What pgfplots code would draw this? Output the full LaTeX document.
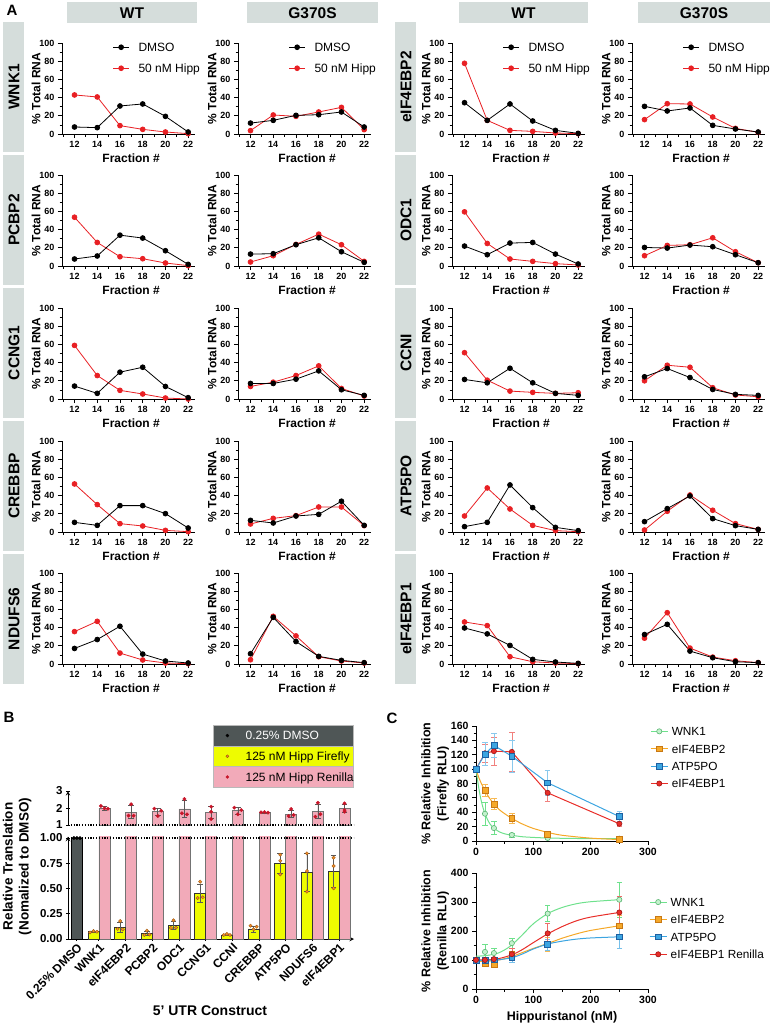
\documentclass[border=0pt]{standalone}
\usepackage{pgfplots}
\pgfplotsset{compat=1.18}
\usepackage{fontspec}
\setmainfont{Liberation Sans}

\definecolor{hdr}{RGB}{213,221,219}
\definecolor{redA}{RGB}{232,32,36}
\definecolor{dmsog}{RGB}{79,86,86}
\definecolor{yelB}{RGB}{238,252,0}
\definecolor{pinkB}{RGB}{242,170,185}
\definecolor{orgdot}{RGB}{240,140,40}
\definecolor{orgdk}{RGB}{150,80,10}
\definecolor{reddot}{RGB}{200,20,40}
\definecolor{greenC}{RGB}{110,225,140}
\definecolor{greenF}{RGB}{195,242,205}
\definecolor{orangeC}{RGB}{245,168,40}
\definecolor{orangeD}{RGB}{200,120,20}
\definecolor{blueC}{RGB}{60,165,225}
\definecolor{blueD}{RGB}{30,95,160}
\definecolor{redC}{RGB}{232,45,40}
\definecolor{redD}{RGB}{160,20,20}

\newcommand{\fA}{\bfseries\fontsize{12}{12}\selectfont}
\newcommand{\fC}{\bfseries\fontsize{12.5}{16}\selectfont}

\pgfplotsset{
  /pgf/number format/assume math mode=true,
  blkline/.style={black, line width=0.8pt, mark=*, mark size=2.4pt, mark options={solid, fill=black}},
  rdline/.style={color=redA, line width=0.8pt, mark=*, mark size=2.4pt, mark options={solid, fill=redA}},
  fracstyle/.style={
    scale only axis, width=133pt, height=91pt, anchor=south west,
    xmin=10.9, xmax=22.6, ymin=0, ymax=100,
    axis lines=left, axis line style={-, line width=0.9pt},
    xtick={12,14,16,18,20,22}, ytick={0,20,40,60,80,100},
    minor xtick={11,13,15,17,19,21}, minor ytick={10,30,50,70,90},
    tick align=outside, major tick length=4pt, minor tick length=2.5pt,
    tick style={black, line width=0.8pt},
    tick label style={font=\bfseries\fontsize{9}{10}\selectfont},
    xlabel={Fraction \#}, ylabel={\% Total RNA},
    xlabel style={at={(axis description cs:0.52,-0.264)}, anchor=center, font=\fA},
    ylabel style={at={(axis description cs:-0.195,0.5)}, anchor=center, font=\fA},
    clip=false,
  },
  legA/.style={
    legend style={at={(axis description cs:0.38,1.071)}, anchor=north west,
      draw=none, fill=none, inner sep=0pt, row sep=0pt, font=\fontsize{12}{12}\selectfont,
      nodes={inner sep=0pt, text height=14.5pt, text depth=6.5pt},
      /tikz/every odd column/.append style={column sep=9pt}},
    legend cell align=left,
    legend image code/.code={\draw[mark repeat=2,mark phase=2,##1] plot coordinates {(0pt,0pt) (8pt,0pt) (16pt,0pt)};},
  },
  cstyle/.style={
    scale only axis, width=172pt, anchor=south west,
    xmin=0, xmax=300, xtick={0,100,200,300}, minor x tick num=1,
    axis lines=left, axis line style={-, line width=1pt},
    tick align=outside, major tick length=4pt, minor tick length=2.5pt,
    tick style={black, line width=0.8pt},
    tick label style={font=\bfseries\fontsize{10.5}{11}\selectfont},
    clip=false,
    legend style={anchor=north west, draw=none, fill=none, inner sep=0pt, row sep=0pt, font=\fontsize{11.8}{12}\selectfont,
      nodes={inner sep=0pt, text height=13pt, text depth=4.4pt},
      /tikz/every odd column/.append style={column sep=3.5pt}},
    legend cell align=left,
    legend image code/.code={\draw[mark repeat=2,mark phase=2,##1] plot coordinates {(0pt,0pt) (8.5pt,0pt) (17pt,0pt)};},
  },
  ebar/.style={error bars/.cd, y dir=both, y explicit,
    error bar style={#1, line width=0.6pt},
    error mark options={rotate=90, mark size=2.8pt, #1, line width=0.6pt}, /pgfplots/.cd},
  bstyle/.style={
    scale only axis, width=286pt, anchor=south west,
    xmin=-0.16, xmax=10.56,
    tick align=outside, major tick length=4pt,
    tick style={black, line width=0.9pt},
    tick label style={font=\bfseries\fontsize{11.5}{12}\selectfont},
    axis line style={-, line width=1pt},
  },
}

\newcommand{\fp}[6]{%
  \begin{axis}[fracstyle, at={(#1pt,-#2pt)}, #5]
    \addplot[rdline, forget plot] coordinates {#4};
    \addplot[blkline, forget plot] coordinates {#3};
    #6
  \end{axis}}
\newcommand{\leg}{\addlegendimage{blkline}\addlegendentry{DMSO}\addlegendimage{rdline}\addlegendentry{50 nM Hipp}}

\begin{document}
\begin{tikzpicture}
\useasboundingbox (0pt,0pt) rectangle (772pt,-1025pt);

% ---------------- Panel A annotations ----------------
\node[font=\bfseries\fontsize{15}{15}\selectfont] at (12pt,-10pt) {A};
\foreach \xa/\xb/\t in {67/197/WT, 247/378/G370S, 459/588/WT, 638/770/G370S}{
  \fill[hdr] (\xa pt,-2pt) rectangle (\xb pt,-23pt);
  \node[font=\bfseries\fontsize{15.5}{16}\selectfont] at ({(\xa+\xb)/2*1pt},-13pt) {\t};
}
\foreach \yt/\la/\lb in {22/WNK1/eIF4EBP2, 155/PCBP2/ODC1, 288/CCNG1/CCNI, 421/CREBBP/ATP5PO, 554/NDUFS6/eIF4EBP1}{
  \fill[hdr] (3pt,-\yt pt) rectangle (24pt,{-(\yt+130)*1pt});
  \fill[hdr] (395pt,-\yt pt) rectangle (416pt,{-(\yt+130)*1pt});
  \node[rotate=90, font=\bfseries\fontsize{15.5}{16}\selectfont] at (14pt,{-(\yt+65)*1pt}) {\la};
  \node[rotate=90, font=\bfseries\fontsize{15.5}{16}\selectfont] at (406pt,{-(\yt+65)*1pt}) {\lb};
}

% ---------------- Panel A plots ----------------
% row 1
\fp{62}{134}{(12,7.7)(14,7)(16,30.8)(18,33)(20,19.4)(22,2.2)}{(12,42.9)(14,40.7)(16,9.2)(18,5.1)(20,2.2)(22,0.4)}{legA}{\leg}
\fp{238}{134}{(12,12)(14,15)(16,20.5)(18,21.2)(20,24.2)(22,7.7)}{(12,3.7)(14,20.9)(16,19.4)(18,24.2)(20,29.3)(22,4.8)}{legA}{\leg}
\fp{452}{134}{(12,34.4)(14,15)(16,33)(18,14.3)(20,4)(22,0.7)}{(12,77.7)(14,15)(16,4)(18,2.9)(20,1.1)(22,0.4)}{legA}{\leg}
\fp{632}{134}{(12,30.4)(14,25.3)(16,28.6)(18,9.5)(20,5.5)(22,2.2)}{(12,15.8)(14,33.3)(16,33)(18,18.7)(20,6.2)(22,1.8)}{legA}{\leg}
% row 2
\fp{62}{266}{(12,7.7)(14,11)(16,33.9)(18,30.7)(20,16.8)(22,1.8)}{(12,53.6)(14,25.9)(16,10.2)(18,8)(20,3.3)(22,0.4)}{}{}
\fp{238}{266}{(12,13.1)(14,13.5)(16,23.4)(18,31)(20,15.7)(22,4)}{(12,4.4)(14,11.3)(16,23.7)(18,35)(20,23.4)(22,5.1)}{}{}
\fp{452}{266}{(12,21.9)(14,12.4)(16,25.2)(18,25.9)(20,13.1)(22,2.2)}{(12,59.5)(14,24.8)(16,7.7)(18,5.1)(20,2.6)(22,1.1)}{}{}
\fp{632}{266}{(12,20.4)(14,19.7)(16,23)(18,21.2)(20,12.4)(22,3.6)}{(12,11.3)(14,22.6)(16,23.4)(18,31)(20,15.7)(22,3.6)}{}{}
% row 3
\fp{62}{399}{(12,14.2)(14,6.2)(16,29.5)(18,34.9)(20,13.8)(22,1.5)}{(12,58.9)(14,25.8)(16,9.5)(18,5.5)(20,1.1)(22,0)}{}{}
\fp{238}{399}{(12,17.1)(14,17.1)(16,21.8)(18,30.9)(20,10.2)(22,4)}{(12,13.8)(14,18.5)(16,25.8)(18,36.4)(20,11.6)(22,3.3)}{}{}
\fp{452}{399}{(12,21.5)(14,17.8)(16,33.8)(18,17.8)(20,6.2)(22,4)}{(12,50.9)(14,20.7)(16,8.7)(18,7.3)(20,6.2)(22,6.9)}{}{}
\fp{632}{399}{(12,24.4)(14,33.5)(16,23.6)(18,10.5)(20,5.1)(22,4)}{(12,20)(14,37.1)(16,34.9)(18,12.4)(20,4.4)(22,2.5)}{}{}
% row 4
\fp{62}{532}{(12,10.6)(14,7.3)(16,29)(18,29)(20,20.2)(22,4.4)}{(12,52.8)(14,30.1)(16,9.2)(18,6.6)(20,1.8)(22,0.4)}{}{}
\fp{238}{532}{(12,12.8)(14,9.9)(16,17.6)(18,19.4)(20,33.8)(22,7.3)}{(12,8.8)(14,15)(16,18)(18,27.5)(20,27.5)(22,7)}{}{}
\fp{452}{532}{(12,5.9)(14,10.6)(16,51.7)(18,26.8)(20,5.1)(22,1.5)}{(12,17.6)(14,48.4)(16,25.3)(18,7.3)(20,1.5)(22,0.4)}{}{}
\fp{632}{532}{(12,11.4)(14,25.7)(16,39.6)(18,14.7)(20,7)(22,2.9)}{(12,2.2)(14,22.8)(16,40.7)(18,23.9)(20,9.2)(22,2.9)}{}{}
% row 5
\fp{62}{664}{(12,17.1)(14,26.9)(16,41.5)(18,10.9)(20,3.3)(22,1.1)}{(12,35.6)(14,46.9)(16,12)(18,4.4)(20,1.1)(22,0.4)}{}{}
\fp{238}{664}{(12,11.3)(14,51.3)(16,24.7)(18,8.4)(20,4)(22,1.5)}{(12,4.7)(14,52.4)(16,30.9)(18,8)(20,3.3)(22,1.1)}{}{}
\fp{452}{664}{(12,39.6)(14,33.1)(16,20.4)(18,5.1)(20,2.2)(22,0.7)}{(12,46.2)(14,42.2)(16,8)(18,2.5)(20,1.1)(22,0.4)}{}{}
\fp{632}{664}{(12,32.4)(14,43.6)(16,14.2)(18,6.9)(20,2.5)(22,1.5)}{(12,28.4)(14,56.4)(16,17.5)(18,7.6)(20,3.6)(22,1.5)}{}{}

% ---------------- Panel B ----------------
\node[font=\bfseries\fontsize{15}{15}\selectfont] at (9pt,-717pt) {B};

% lower part
\begin{axis}[bstyle, at={(68pt,-939pt)}, height=102.3pt,
  ymin=0, ymax=1.013, axis lines=left,
  xtick={0.175,1,2,3,4,5,6,7,8,9,10},
  xticklabels={0.25\% DMSO,WNK1,eIF4EBP2,PCBP2,ODC1,CCNG1,CCNI,CREBBP,ATP5PO,NDUFS6,eIF4EBP1},
  xticklabel style={rotate=45, anchor=north east, font=\bfseries\fontsize{12}{12}\selectfont, inner sep=1pt},
  ytick={0,0.25,0.5,0.75,1},
  yticklabel style={/pgf/number format/.cd, fixed, fixed zerofill, precision=2},
  xlabel={5' UTR Construct},
  xlabel style={at={(axis description cs:0.4965,-0.70)}, anchor=center, font=\bfseries\fontsize{14}{14}\selectfont},
  ylabel={Relative Translation\\(Nomalized to DMSO)},
  ylabel style={at={(axis description cs:-0.178,0.71)}, anchor=center, align=center, font=\bfseries\fontsize{13.5}{16}\selectfont},
]
\addplot[ybar, bar width=0.41, bar shift=0, fill=dmsog, draw=black] coordinates {(0.175,1)};
\addplot[ybar, bar width=0.41, bar shift=0, fill=pinkB, draw=black!55, line width=0.6pt]
  coordinates {(1.205,2.0)(2.205,1.76)(3.205,1.78)(4.205,1.95)(5.205,1.74)(6.205,1.84)(7.205,1.72)(8.205,1.64)(9.205,1.8)(10.205,1.98)};
\addplot[ybar, bar width=0.41, bar shift=0, fill=yelB, draw=black!80, line width=0.6pt, ebar=black!65]
  table[x=x, y=y, y error=e] {
x y e
0.795 0.073 0.008
1.795 0.115 0.05
2.795 0.055 0.02
3.795 0.135 0.04
4.795 0.452 0.09
5.795 0.04 0.008
6.795 0.10 0.03
7.795 0.746 0.10
8.795 0.66 0.19
9.795 0.673 0.16
};
\addplot[dash pattern=on 1.2pt off 1.6pt, line width=1.1pt, black] coordinates {(-0.16,1)(10.56,1)};
\addplot[only marks, mark=*, mark size=1.7pt, mark options={fill=black, draw=black}] coordinates {(0.06,1)(0.175,1)(0.29,1)};
\addplot[only marks, mark=*, mark size=1.7pt, mark options={fill=orgdot, draw=orgdk, line width=0.3pt}] table {
x y
0.665 0.065
0.795 0.078
0.925 0.072
1.70 0.10
1.795 0.178
1.89 0.095
2.70 0.04
2.795 0.083
2.89 0.045
3.70 0.11
3.795 0.185
3.89 0.112
4.70 0.406
4.795 0.568
4.89 0.413
5.68 0.04
5.795 0.05
5.91 0.04
6.68 0.132
6.795 0.096
6.91 0.122
7.795 0.64
7.795 0.835
7.795 0.775
8.795 0.848
8.795 0.673
8.795 0.469
9.795 0.805
9.795 0.723
9.795 0.502
};
\end{axis}

% upper part
\begin{axis}[bstyle, at={(68pt,-825pt)}, height=34pt,
  ymin=1, ymax=3, ytick={1,2,3},
  axis x line=none, axis y line=left, xtick=\empty,
  legend style={at={(axis description cs:0.5507,2.941)}, anchor=north west,
    draw=none, fill=none, inner sep=0pt, row sep=0pt, font=\fontsize{12}{12}\selectfont,
    nodes={inner sep=0pt, text height=14.6pt, text depth=6.1pt},
    /tikz/every odd column/.append style={column sep=16.5pt}},
  legend cell align=left,
]
\addplot[ybar, bar width=0.41, bar shift=0, fill=pinkB, draw=black!55, line width=0.6pt, forget plot, ebar=black!65]
  table[x=x, y=y, y error=e] {
x y e
1.205 2.0 0.12
2.205 1.76 0.38
3.205 1.78 0.22
4.205 1.95 0.5
5.205 1.74 0.37
6.205 1.84 0.2
7.205 1.72 0.04
8.205 1.64 0.2
9.205 1.8 0.42
10.205 1.98 0.25
};
\addplot[dash pattern=on 1.2pt off 1.6pt, line width=1.1pt, black, forget plot] coordinates {(-0.16,1)(10.56,1)};
\addplot[only marks, mark=*, mark size=1.7pt, mark options={fill=reddot, draw=reddot}, forget plot] table {
x y
1.075 2.12
1.205 1.98
1.335 1.96
2.11 1.55
2.205 2.22
2.30 1.55
3.075 1.96
3.205 1.53
3.335 1.84
4.11 1.69
4.205 2.53
4.30 1.63
5.205 2.08
5.205 1.78
5.205 1.35
6.075 2.02
6.205 1.63
6.335 1.88
7.075 1.75
7.205 1.76
7.335 1.73
8.11 1.53
8.205 1.94
8.30 1.59
9.11 1.49
9.205 2.31
9.30 1.63
10.205 2.27
10.205 1.88
10.205 1.78
};
\addlegendimage{legend image code/.code={\filldraw[overlay, fill=dmsog, draw=gray!55, line width=0.8pt] (-14pt,-10.35pt) rectangle (126pt,10.35pt); \fill[black] (0pt,0pt) circle (1.5pt);}}
\addlegendentry{\textcolor{white}{0.25\% DMSO}}
\addlegendimage{legend image code/.code={\filldraw[overlay, fill=yelB, draw=gray!55, line width=0.8pt] (-14pt,-10.35pt) rectangle (126pt,10.35pt); \filldraw[fill=orgdot, draw=orgdk, line width=0.3pt] (0pt,0pt) circle (1.5pt);}}
\addlegendentry{125 nM Hipp Firefly}
\addlegendimage{legend image code/.code={\filldraw[overlay, fill=pinkB, draw=gray!55, line width=0.8pt] (-14pt,-10.35pt) rectangle (126pt,10.35pt); \fill[reddot] (0pt,0pt) circle (1.5pt);}}
\addlegendentry{125 nM Hipp Renilla}
\end{axis}

% ---------------- Panel C ----------------
\node[font=\bfseries\fontsize{15}{15}\selectfont] at (392pt,-718pt) {C};

\begin{axis}[cstyle, at={(476pt,-841pt)}, height=115pt,
  ymin=0, ymax=160, ytick={0,20,40,60,80,100,120,140,160}, minor y tick num=1,
  ylabel={\% Relative Inhibition\\(Firefly RLU)},
  ylabel style={at={(axis description cs:-0.238,0.5)}, anchor=center, align=center, font=\fC},
  legend style={at={(axis description cs:1.012,1.031)}},
]
\addplot[smooth, greenC, line width=1pt, forget plot] coordinates {(0,100)(4,78)(8,60)(12,47)(15.625,38)(20,30)(25,23)(31.25,18)(40,13)(50,10)(62.5,8)(80,6)(100,5)(125,4.2)(175,3.5)(250,3.3)};
\addplot[smooth, orangeC, line width=1pt, forget plot] coordinates {(0,100)(5,88)(10,79)(15.625,70.5)(20,64)(25,58)(31.25,51.5)(40,44)(50,38)(62.5,31.5)(80,24)(100,17.5)(125,12)(150,8)(200,4)(250,2)};
\addplot[only marks, mark=*, mark size=2.6pt, mark options={fill=greenF, draw=greenC!80!black, line width=0.6pt}, forget plot, ebar=greenC]
  table[x=x,y=y,y error=e] {
x y e
0 100 0
15.625 38 16
31.25 18 9
62.5 8.4 3
125 4.2 2
250 3.3 2
};
\addplot[only marks, mark=square*, mark size=2.9pt, mark options={fill=orangeC, draw=orangeD, line width=0.6pt}, forget plot, ebar=orangeC!80]
  table[x=x,y=y,y error=e] {
x y e
0 100 0
15.625 70.5 8
31.25 51.5 8
62.5 32 7
125 9 3
250 2 1
};
\addplot[redC, line width=1pt, mark=*, mark size=2.6pt, mark options={fill=redC, draw=redD, line width=0.6pt}, forget plot, ebar=redC!60]
  table[x=x,y=y,y error=e] {
x y e
0 100 0
15.625 122 12
31.25 125 19
62.5 124 27
125 67 12
250 24 3
};
\addplot[blueC, line width=1pt, mark=square*, mark size=2.9pt, mark options={fill=blueC, draw=blueD, line width=0.6pt}, forget plot, ebar=blueC!60]
  table[x=x,y=y,y error=e] {
x y e
0 100 0
15.625 121 16
31.25 133 17
62.5 118 22
125 81 18
250 34 7
};
\addlegendimage{greenC, line width=1pt, mark=*, mark size=2.6pt, mark options={fill=greenF, draw=greenC!80!black, line width=0.6pt}}
\addlegendentry{WNK1}
\addlegendimage{orangeC, line width=1pt, mark=square*, mark size=2.9pt, mark options={fill=orangeC, draw=orangeD, line width=0.6pt}}
\addlegendentry{eIF4EBP2}
\addlegendimage{blueC, line width=1pt, mark=square*, mark size=2.9pt, mark options={fill=blueC, draw=blueD, line width=0.6pt}}
\addlegendentry{ATP5PO}
\addlegendimage{redC, line width=1pt, mark=*, mark size=2.6pt, mark options={fill=redC, draw=redD, line width=0.6pt}}
\addlegendentry{eIF4EBP1}
\end{axis}

\begin{axis}[cstyle, at={(476pt,-989pt)}, height=116pt,
  ymin=0, ymax=400, ytick={0,100,200,300,400}, minor y tick num=1,
  xlabel={Hippuristanol (nM)},
  xlabel style={at={(axis description cs:0.5,-0.241)}, anchor=center, font=\fC},
  ylabel={\% Relative Inhibition\\(Renilla RLU)},
  ylabel style={at={(axis description cs:-0.238,0.5)}, anchor=center, align=center, font=\fC},
  legend style={at={(axis description cs:1.006,0.826)}},
]
\addplot[smooth, greenC, line width=1pt, forget plot] coordinates {(0,113)(20,116)(40,125)(60,148)(80,185)(100,225)(125,260)(150,281)(175,294)(200,301)(250,308)};
\addplot[smooth, redC, line width=1pt, forget plot] coordinates {(0,100)(20,101)(40,105)(62.5,118)(80,135)(100,160)(125,190)(150,215)(175,235)(200,248)(250,264)};
\addplot[smooth, orangeC, line width=1pt, forget plot] coordinates {(0,95)(20,96)(40,100)(62.5,112)(80,125)(100,140)(125,157)(150,175)(175,190)(200,202)(250,218)};
\addplot[smooth, blueC, line width=1pt, forget plot] coordinates {(0,98)(20,99)(40,101)(62.5,108)(80,120)(100,138)(125,155)(150,165)(175,172)(200,176)(250,180)};
\addplot[only marks, mark=*, mark size=2.6pt, mark options={fill=greenF, draw=greenC!80!black, line width=0.6pt}, forget plot, ebar=greenC]
  table[x=x,y=y,y error=e] {
x y e
0 100 0
15.625 128 25
31.25 124 18
62.5 158 18
125 260 28
250 308 60
};
\addplot[only marks, mark=square*, mark size=2.9pt, mark options={fill=orangeC, draw=orangeD, line width=0.6pt}, forget plot, ebar=orangeC!80]
  table[x=x,y=y,y error=e] {
x y e
0 100 0
15.625 89 8
31.25 85 8
62.5 120 20
125 155 25
250 218 35
};
\addplot[only marks, mark=square*, mark size=2.9pt, mark options={fill=blueC, draw=blueD, line width=0.6pt}, forget plot, ebar=blueC!70]
  table[x=x,y=y,y error=e] {
x y e
0 100 0
15.625 98 10
31.25 101 8
62.5 108 15
125 153 20
250 180 38
};
\addplot[only marks, mark=*, mark size=2.6pt, mark options={fill=redC, draw=redD, line width=0.6pt}, forget plot, ebar=redC!70]
  table[x=x,y=y,y error=e] {
x y e
0 100 0
15.625 100 8
31.25 103 8
62.5 120 20
125 192 35
250 264 55
};
\addlegendimage{greenC, line width=1pt, mark=*, mark size=2.6pt, mark options={fill=greenF, draw=greenC!80!black, line width=0.6pt}}
\addlegendentry{WNK1}
\addlegendimage{orangeC, line width=1pt, mark=square*, mark size=2.9pt, mark options={fill=orangeC, draw=orangeD, line width=0.6pt}}
\addlegendentry{eIF4EBP2}
\addlegendimage{blueC, line width=1pt, mark=square*, mark size=2.9pt, mark options={fill=blueC, draw=blueD, line width=0.6pt}}
\addlegendentry{ATP5PO}
\addlegendimage{redC, line width=1pt, mark=*, mark size=2.6pt, mark options={fill=redC, draw=redD, line width=0.6pt}}
\addlegendentry{eIF4EBP1 Renilla}
\end{axis}

\end{tikzpicture}
\end{document}
